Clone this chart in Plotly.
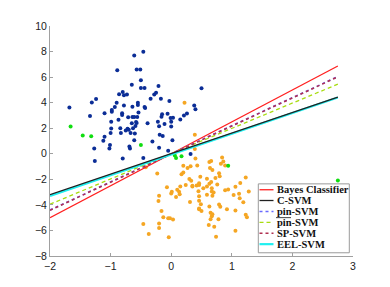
import plotly.graph_objects as go

# ---------------- data ----------------
pos_x = [-1.68,-1.34,-1.31,-1.24,-1.10,-1.27,-1.12,-1.10,-1.02,-1.01,-1.00,-0.99,-0.99,-0.98,-0.98,-0.93,-0.90,-0.89,
         -0.87,-0.86,-0.84,-0.83,-0.81,-0.81,-0.80,-0.78,-0.78,-0.75,-0.73,-0.72,-0.71,-0.70,-0.69,-0.68,-0.67,-0.65,
         -0.65,-0.64,-0.64,-0.63,-0.61,-0.61,-0.61,-0.60,-0.59,-0.58,-0.57,-0.57,-0.56,-0.55,-0.55,-0.54,-0.51,-0.50,
         -0.50,-0.46,-0.44,-0.44,-0.43,-0.39,-0.34,-0.31,-0.28,-0.25,-0.22,-0.21,-0.20,-0.20,-0.19,-0.17,-0.16,-0.15,
         -0.14,-0.11,-0.06,-0.05,-0.03,-0.01,0.00,0.00,0.02,0.03,0.15,0.21,0.26,0.38,0.40,0.50,-1.26,-0.80,-0.46,0.32]
pos_y = [3.62,2.95,4.02,4.28,3.18,0.42,1.01,1.34,0.42,0.68,1.62,1.98,2.51,3.28,3.43,3.66,4.00,6.53,
         2.67,4.66,2.00,1.62,3.03,3.18,4.84,4.58,3.77,1.82,4.64,1.95,2.85,1.88,0.57,0.42,1.62,5.40,
         2.39,2.87,3.69,2.00,1.06,2.87,7.70,1.59,2.18,2.49,6.60,2.41,2.87,4.00,3.82,3.23,6.60,5.76,
         5.15,7.98,3.66,5.15,3.59,2.39,4.31,0.96,4.64,4.77,2.51,5.30,2.15,0.47,1.49,4.31,2.90,3.10,
         1.39,2.34,3.13,0.24,4.14,2.80,2.51,2.13,1.06,2.82,2.69,3.00,3.16,3.77,3.49,5.12,-0.57,-0.37,-0.34,-0.01]

neg_x = [0.22,0.39,0.39,-0.46,-0.37,-0.23,-0.21,-0.20,-0.16,-0.13,-0.20,-0.20,-0.07,-0.05,-0.02,0.03,-0.04,0.00,
         0.01,0.08,0.10,0.13,0.14,0.15,0.17,0.20,0.20,0.24,0.27,0.30,0.32,0.33,0.35,0.40,0.43,0.45,0.46,0.46,
         0.46,0.63,0.64,0.84,0.86,0.82,0.89,0.68,0.79,0.80,0.73,0.59,0.48,0.35,0.42,0.46,0.59,0.53,0.66,0.63,
         0.67,0.67,0.70,0.68,0.46,0.59,0.76,0.89,0.94,1.06,1.12,1.13,1.28,1.23,1.14,1.03,1.19,0.79,0.81,0.92,
         1.06,1.23,1.25,1.06,0.74,0.62,0.71,0.46,0.50,0.49,0.65,0.67,0.68,0.65,0.78,0.63,0.31,0.66,-0.42]
neg_y = [4.00,1.49,0.37,-5.50,-6.27,-1.55,-3.69,-3.28,-4.48,-4.97,-5.45,-5.81,-2.62,-5.05,-5.05,-5.15,-6.53,-3.10,
         -2.98,-3.39,-2.82,-2.98,-3.16,-2.57,-1.60,-0.93,-1.47,-2.44,-1.11,-1.98,-0.98,-2.11,-2.57,-0.37,-0.91,-2.93,-2.44,-3.67,
         -4.35,-0.65,-1.11,-0.29,-0.60,-0.78,-0.91,-1.26,-1.52,-1.75,-1.90,-1.95,-1.80,-2.51,-2.49,-2.31,-2.57,-2.70,-2.21,-2.34,
         -2.70,-2.95,-3.03,-3.28,-3.33,-3.20,-2.41,-2.85,-2.80,-2.59,-3.13,-3.49,-2.95,-1.85,-2.28,-3.23,-3.79,-3.97,-4.15,-4.35,
         -4.43,-4.77,-4.97,-6.02,-6.50,-5.58,-5.71,-4.28,-4.48,-3.95,-4.61,-4.89,-4.74,-5.12,-5.12,-4.12,-3.77,-0.57,-1.05]

noise_x = [-1.66,-1.46,-1.32,-0.50,0.06,0.17,0.08,0.94,2.75]
noise_y = [2.13,1.44,1.37,0.68,-0.14,-0.19,-0.34,-0.93,-2.10]

line_x = [-2.0, 2.75]
methods = ["Bayes Classifier", "C-SVM", "pin-SVM", "pin-SVM-bar", "SP-SVM", "EEL-SVM"]
labels = ["Bayes Classifier", "C-SVM", "pin-SVM", "pin-SVM", "SP-SVM", "EEL-SVM"]
line_y = {
    "Bayes Classifier": [-5.00, 6.87],
    "C-SVM": [-3.20, 4.43],
    "pin-SVM": [-4.40, 6.04],
    "pin-SVM-bar": [-3.95, 5.45],
    "SP-SVM": [-4.42, 6.02],
    "EEL-SVM": [-3.30, 4.40],
}
styles = {
    "Bayes Classifier": dict(color="#ff2020", width=1.3, dash="solid"),
    "C-SVM": dict(color="#202020", width=1.3, dash="solid"),
    "pin-SVM": dict(color="#6a6aff", width=1.6, dash="dot"),
    "pin-SVM-bar": dict(color="#a8dc10", width=1.3, dash="4px,3px"),
    "SP-SVM": dict(color="#b03050", width=1.6, dash="dot"),
    "EEL-SVM": dict(color="#20f0f0", width=2.2, dash="solid"),
}

fig = go.Figure()
mk = dict(size=4, line=dict(width=0))
fig.add_trace(go.Scatter(x=pos_x, y=pos_y, mode="markers", marker=dict(color="#0b2d96", **mk), showlegend=False))
fig.add_trace(go.Scatter(x=neg_x, y=neg_y, mode="markers", marker=dict(color="#f5a623", **mk), showlegend=False))
fig.add_trace(go.Scatter(x=noise_x, y=noise_y, mode="markers", marker=dict(color="#10dd10", **mk), showlegend=False))

order = ["Bayes Classifier", "pin-SVM", "pin-SVM-bar", "SP-SVM", "EEL-SVM", "C-SVM"]
for m in order:
    fig.add_trace(go.Scatter(x=line_x, y=line_y[m], mode="lines", line=styles[m], showlegend=False))

# page body has an 8px default margin: compensate
OFF = 8
FW, FH = 390 - OFF, 287 - OFF
L, R, T, B = 50 - OFF, 353 - OFF, 21 - OFF, 256 - OFF
W, H = R - L, B - T
def px(xp): return (xp - OFF - L) / W
def py(yp): return (B - (yp - OFF)) / H

shapes = [dict(type="rect", xref="paper", yref="paper", x0=px(258.3), x1=px(349.3), y0=py(252.7), y1=py(182.3),
               fillcolor="white", line=dict(color="#9a9a9a", width=1), layer="above")]
annotations = []
ycs = [188.3, 199.3, 210.5, 221.6, 232.7, 243.9]
for m, lab, yc in zip(methods, labels, ycs):
    st = styles[m]
    shapes.append(dict(type="line", xref="paper", yref="paper", x0=px(259.5), x1=px(273.5), y0=py(yc), y1=py(yc),
                       line=dict(color=st["color"], width=st["width"], dash=st["dash"]), layer="above"))
    annotations.append(dict(xref="paper", yref="paper", x=px(274.5), y=py(yc), xanchor="left", yanchor="middle",
                            text="<b>" + lab + "</b>", showarrow=False,
                            font=dict(family="Liberation Serif", size=10.5, color="#111")))
# overline above "pin" of the pin-SVM-bar entry
shapes.append(dict(type="line", xref="paper", yref="paper", x0=px(276), x1=px(291), y0=py(216.8), y1=py(216.8),
                   line=dict(color="#111", width=0.8), layer="above"))

axis_common = dict(showgrid=False, zeroline=False, showline=True, linecolor="#a0a0a0", linewidth=1,
                   ticks="inside", ticklen=3, tickcolor="#a0a0a0", mirror=False,
                   tickfont=dict(family="Liberation Sans", size=10.5, color="#222"))
fig.update_layout(
    width=FW, height=FH, margin=dict(l=L, r=FW - R, t=T, b=FH - B),
    plot_bgcolor="white", paper_bgcolor="white",
    xaxis=dict(range=[-2, 3], tickvals=[-2, -1, 0, 1, 2, 3], **axis_common),
    yaxis=dict(range=[-8, 10], tickvals=list(range(-8, 11, 2)), **axis_common),
    shapes=shapes, annotations=annotations,
)
fig.write_html("out.html")
